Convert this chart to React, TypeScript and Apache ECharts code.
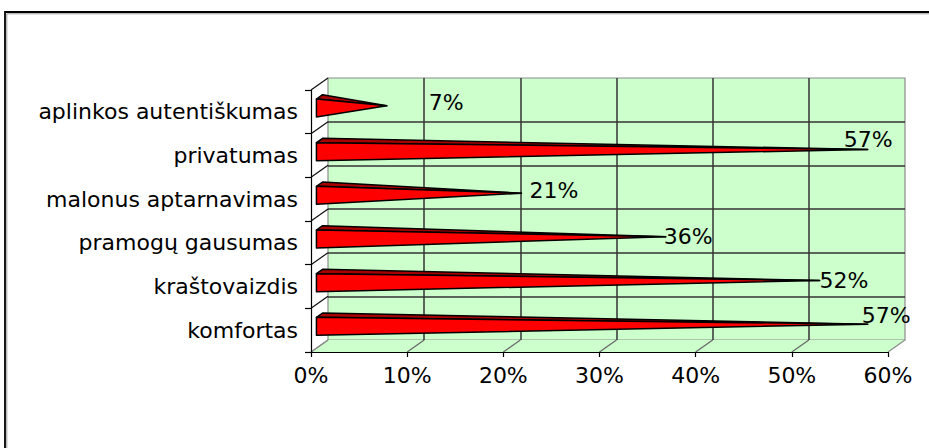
import React, { useEffect, useRef } from "react";
import * as echarts from "echarts";

const categories = [
  "komfortas",
  "kraštovaizdis",
  "pramogų gausumas",
  "malonus aptarnavimas",
  "privatumas",
  "aplinkos autentiškumas",
];
const values = [57, 52, 36, 21, 57, 7];
const xTicks = [0, 10, 20, 30, 40, 50, 60];
const labelTexts = values.map((v) => v + "%");
// manual label nudges (pixels) relative to each cone tip, as in the original
const labelNudgeX = [-6, 0, -2, 8, -24, 42];
const labelNudgeY = [-15, -6, -6.5, -8.5, -16, -9];

const DX = 17;
const DY = -12;
const FONT = "DejaVu Sans";
const GREEN = "#CCFFCC";

export default function App() {
  const ref = useRef<HTMLDivElement>(null);

  useEffect(() => {
    if (!ref.current) return;
    const chart = echarts.init(ref.current, undefined, { renderer: "svg" });

    const frameRender = (params: any, api: any) => {
      const cs = params.coordSys;
      const L = cs.x;
      const T = cs.y;
      const R = cs.x + cs.width;
      const B = cs.y + cs.height;
      const band = cs.height / categories.length;
      const children: any[] = [];
      children.push({
        type: "polygon",
        shape: {
          points: [
            [L, B],
            [R, B],
            [R + DX, B + DY],
            [L + DX, B + DY],
          ],
        },
        style: { fill: GREEN, stroke: null },
      });
      xTicks.forEach((v) => {
        const x = api.coord([v, 0])[0];
        children.push({
          type: "line",
          shape: { x1: x, y1: B, x2: x + DX, y2: B + DY },
          style: { stroke: v === 0 || v === 60 ? "#8c8c8c" : "#666666", lineWidth: 1.2 },
        });
      });
      for (let i = 0; i <= categories.length; i++) {
        const y = T + i * band;
        children.push({
          type: "line",
          shape: { x1: L, y1: y, x2: L + DX, y2: y + DY },
          style: { stroke: i === categories.length ? "#8c8c8c" : "#111111", lineWidth: 1.2 },
        });
      }
      return { type: "group", children };
    };

    const barRender = (params: any, api: any) => {
      const v = api.value(0);
      const c = api.value(1);
      const idx = params.dataIndex;
      const p0 = api.coord([0, c]);
      const pv = api.coord([v, c]);
      const band = api.size([0, 1])[1];
      const h = band * 0.206;
      const f = 0.32;
      const b = 0.68;
      const ft = [p0[0] + f * DX, p0[1] - h + f * DY];
      const fb = [p0[0] + f * DX, p0[1] + h + f * DY];
      const bt = [p0[0] + b * DX, p0[1] - h + b * DY];
      const tip = [pv[0] + 0.5 * DX, pv[1] + 0.5 * DY];
      return {
        type: "group",
        children: [
          {
            type: "polygon",
            shape: { points: [ft, bt, tip] },
            style: { fill: "#A80000", stroke: "#000", lineWidth: 1.5, lineJoin: "round" },
          },
          {
            type: "polygon",
            shape: { points: [ft, fb, tip] },
            style: { fill: "#FF0000", stroke: "#000", lineWidth: 1.5, lineJoin: "round" },
          },
          {
            type: "text",
            style: {
              text: labelTexts[idx],
              x: tip[0] + labelNudgeX[idx],
              y: p0[1] + labelNudgeY[idx],
              fill: "#000",
              fontSize: 22,
              fontFamily: FONT,
              align: "left",
              verticalAlign: "middle",
            },
          },
        ],
      };
    };

    chart.setOption({
      animation: false,
      grid: [
        { left: 311, top: 90, width: 577, height: 262 },
        {
          left: 328,
          top: 78,
          width: 577,
          height: 262,
          show: true,
          backgroundColor: GREEN,
          borderColor: "#8c8c8c",
          borderWidth: 1.2,
        },
      ],
      xAxis: [
        {
          gridIndex: 0,
          type: "value",
          min: 0,
          max: 60,
          interval: 10,
          z: 5,
          axisLine: { show: true, lineStyle: { color: "#000", width: 1.2 } },
          axisTick: { show: true, length: 5, lineStyle: { color: "#000", width: 1.2 } },
          axisLabel: {
            formatter: "{value}%",
            fontSize: 22,
            fontFamily: FONT,
            color: "#000",
            margin: 12,
          },
          splitLine: { show: false },
        },
        {
          gridIndex: 1,
          type: "value",
          min: 0,
          max: 60,
          interval: 10,
          axisLine: { show: false },
          axisTick: { show: false },
          axisLabel: { show: false },
          splitLine: {
            show: true,
            showMinLine: false,
            showMaxLine: false,
            lineStyle: { color: "#333", width: 1.5 },
          },
        },
      ],
      yAxis: [
        {
          gridIndex: 0,
          type: "category",
          data: categories,
          z: 5,
          axisLine: { show: true, lineStyle: { color: "#000", width: 1.2 } },
          axisTick: { show: true, length: 6, lineStyle: { color: "#000", width: 1.2 } },
          axisLabel: { fontSize: 22, fontFamily: FONT, color: "#000", margin: 13 },
          splitLine: { show: false },
        },
        {
          gridIndex: 1,
          type: "category",
          data: categories,
          axisLine: { show: false },
          axisTick: { show: false },
          axisLabel: { show: false },
          splitLine: {
            show: true,
            showMinLine: false,
            showMaxLine: false,
            lineStyle: { color: "#333", width: 1.5 },
          },
        },
      ],
      series: [
        {
          type: "custom",
          xAxisIndex: 0,
          yAxisIndex: 0,
          z: 1,
          silent: true,
          data: [[0, 0]],
          renderItem: frameRender,
        },
        {
          type: "custom",
          xAxisIndex: 0,
          yAxisIndex: 0,
          z: 3,
          silent: true,
          data: values.map((v, i) => [v, i]),
          renderItem: barRender,
        },
      ],
      graphic: [
        {
          type: "rect",
          shape: { x: 5, y: 12, width: 1000, height: 1000 },
          style: { fill: "none", stroke: "#000", lineWidth: 1.8 },
        },
        {
          type: "rect",
          shape: { x: 6.8, y: 13.8, width: 1000, height: 1000 },
          style: { fill: "none", stroke: "#9a9a9a", lineWidth: 1 },
        },
      ],
    });

    return () => chart.dispose();
  }, []);

  return (
    <div
      ref={ref}
      style={{ position: "fixed", left: 0, top: 0, width: 929, height: 448, background: "#fff" }}
    />
  );
}
